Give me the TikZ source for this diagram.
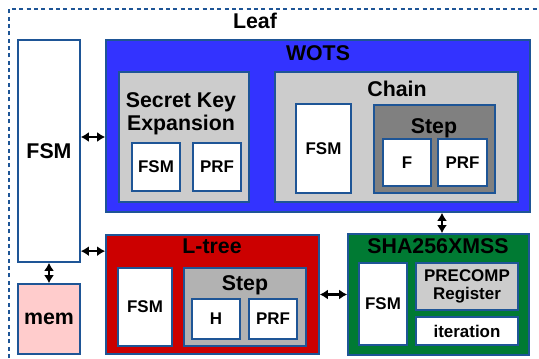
\documentclass[tikz,border=0pt]{standalone}
\usepackage{fontspec}
\setmainfont{Liberation Sans}
\usetikzlibrary{arrows.meta, fit}

\definecolor{edge}{RGB}{30,85,150}
\definecolor{wotsblue}{RGB}{51,51,255}
\definecolor{lgray}{RGB}{204,204,204}
\definecolor{dgray}{RGB}{128,128,128}
\definecolor{mgray}{RGB}{178,178,178}
\definecolor{treered}{RGB}{204,0,0}
\definecolor{shagreen}{RGB}{0,122,51}
\definecolor{mempink}{RGB}{255,204,204}

\tikzset{
  blk/.style={draw=edge, line width=1.3pt, inner sep=0pt, fill=white},
  big/.style={font=\fontsize{16}{17.5}\selectfont\bfseries},
  small/.style={font=\fontsize{12.7}{13.5}\selectfont\bfseries},
  dbl/.style={{Latex[length=6pt,width=7.5pt]}-{Latex[length=6pt,width=7.5pt]}, line width=1.6pt},
}

\begin{document}
\begin{tikzpicture}[x=0.75pt,y=0.75pt,yscale=-1,xscale=1]
\useasboundingbox (0,0) rectangle (539,358);

%Leaf border (dashed)
\draw [edge, line width=1.3pt, dash pattern={on 3pt off 2.5pt}] (9,358) -- (9,9) -- (539,9) ;
\node [big, anchor=base] (leaflbl) at (255,28) {Leaf};

%Top FSM and memory
\node [blk, fit={(18,40) (80,262)}] (fsm) {};
\node [blk, fill=mempink, fit={(18,284) (80,354)}] (mem) {};

%WOTS
\node [blk, fill=wotsblue, fit={(106,40) (530,212)}] (wots) {};
% Secret key expansion
\node [blk, fill=lgray, fit={(119,72) (249,202)}] (ske) {};
\node [blk, fit={(132,143) (180,191)}] (skefsm) {};
\node [blk, fit={(193,143) (241,191)}] (skeprf) {};
% Chain
\node [blk, fill=lgray, fit={(275,72) (518,202)}] (chain) {};
\node [blk, fit={(296,104) (351,193)}] (chainfsm) {};
\node [blk, fill=dgray, fit={(374,105) (495,193)}] (cstep) {};
\node [blk, fit={(383,139) (431,186)}] (cf) {};
\node [blk, fit={(438,139) (487,186)}] (cprf) {};

%L-tree
\node [blk, fill=treered, fit={(106,235) (319,354)}] (ltree) {};
\node [blk, fit={(118,268) (172,346)}] (ltreefsm) {};
\node [blk, fill=mgray, fit={(184,268) (306,346)}] (lstep) {};
\node [blk, fit={(192,299) (240,339)}] (lh) {};
\node [blk, fit={(249,299) (297,339)}] (lprf) {};

%SHA256XMSS
\node [blk, fill=shagreen, fit={(348,234) (529,355)}] (sha) {};
\node [blk, fit={(359,263) (407,345)}] (shafsm) {};
\node [blk, fill=lgray, fit={(416,263) (518,310)}] (precomp) {};
\node [blk, fit={(416,317) (518,345)}] (iter) {};

% Text Node
\node [big] (fsmtxt) at (fsm) {FSM};
\node [big] (memtxt) at (mem) {mem};
\node [big, anchor=base] (wotslbl) at (318,60) {WOTS};
\node [big, align=center] (skelbl) at (181,114) {Secret Key\\Expansion};
\node [small] (skefsmtxt) at (skefsm) {FSM};
\node [small] (skeprftxt) at (skeprf) {PRF};
\node [big, anchor=base] (chainlbl) at (397,96) {Chain};
\node [small] (chainfsmtxt) at (chainfsm) {FSM};
\node [big, anchor=base] (csteplbl) at (434,133) {Step};
\node [small] (cftxt) at (cf) {F};
\node [small] (cprftxt) at (cprf) {PRF};
\node [big, anchor=base] (ltreelbl) at (212,253) {L-tree};
\node [small] (ltreefsmtxt) at (ltreefsm) {FSM};
\node [big, anchor=base] (lsteplbl) at (245,290) {Step};
\node [small] (lhtxt) at (lh) {H};
\node [small] (lprftxt) at (lprf) {PRF};
\node [big, anchor=base] (shalbl) at (438,253) {SHA256XMSS};
\node [small] (shafsmtxt) at (shafsm) {FSM};
\node [small, align=center] (precomptxt) at (precomp) {PRECOMP\\Register};
\node [small] (itertxt) at (iter) {iteration};

%Connections
\draw [dbl] (fsm.east |- ske) -- (wots.west |- ske) ;
\draw [dbl] ([yshift=12.75pt]fsm.east |- ltree.north) -- ([yshift=12.75pt]ltree.north west) ;
\draw [dbl] (fsm.south) -- (mem.north) ;
\draw [dbl] (ltree.east) -- (sha.west) ;
\draw [dbl] ([xshift=2.6pt]wots.south -| sha) -- ([xshift=2.6pt]sha.north) ;

\end{tikzpicture}
\end{document}
